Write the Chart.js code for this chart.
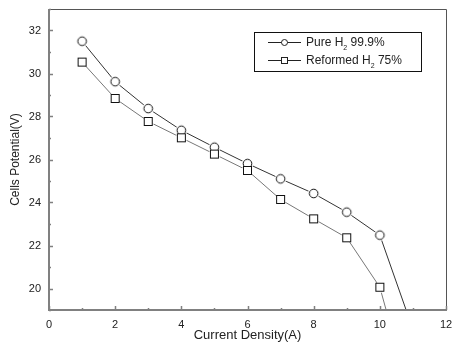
<!DOCTYPE html>
<html>
<head>
<meta charset="utf-8">
<script src="https://cdn.jsdelivr.net/npm/chart.js@4.4.0/dist/chart.umd.min.js"></script>
<style>
html, body { margin: 0; padding: 0; background: #fff; }
#wrap { width: 453px; height: 352px; }
</style>
</head>
<body>
<div id="wrap"><canvas id="cells-chart" width="453" height="352"></canvas></div>
<script>
// Cells potential vs current density

var currentA = [1, 2, 3, 4, 5, 6, 7, 8, 9, 10, 11];
var purePotential = [31.5, 29.62, 28.37, 27.36, 26.57, 25.81, 25.1, 24.42, 23.55, 22.48, 18.1];
var reformedPotential = [30.53, 28.84, 27.77, 27.01, 26.25, 25.49, 24.14, 23.24, 22.36, 20.06, 14.5];
var seriesLabels = ['Pure H\u2082 99.9%', 'Reformed H\u2082 75%'];
var xTicks = [0, 2, 4, 6, 8, 10, 12];
var yTicks = [20, 22, 24, 26, 28, 30, 32];

Chart.defaults.font.family = "'Liberation Sans', Arial, sans-serif";
Chart.defaults.color = '#222';

function makeMarker(shape) {
	var c = document.createElement('canvas');
	c.width = 15; c.height = 15;
	var g = c.getContext('2d');
	g.fillStyle = '#fff';
	g.beginPath(); g.arc(7.5, 7.5, 5.8, 0, Math.PI * 2); g.fill();
	g.strokeStyle = '#111';
	g.lineWidth = 1;
	if (shape === 'circle') {
		g.beginPath(); g.arc(7.5, 7.5, 4.3, 0, Math.PI * 2); g.stroke();
	} else {
		g.strokeRect(3.5, 3.5, 8, 8);
	}
	return c;
}
var circleMarker = makeMarker('circle');
var squareMarker = makeMarker('square');

function toPoints(xs, ys) {
	return xs.map(function(x, i){ return {x: x, y: ys[i]}; });
}

// frame + inward ticks like the original plot
var framePlugin = {
	id: 'frame',
	afterDatasetsDraw: function(chart) {
		var ctx = chart.ctx, a = chart.chartArea;
		var xs = chart.scales.x, ys = chart.scales.y;
		ctx.save();
		ctx.strokeStyle = '#555';
		ctx.lineWidth = 1;
		ctx.beginPath();
		ctx.moveTo(a.left, a.top + 0.5); ctx.lineTo(a.right + 0.5, a.top + 0.5);
		ctx.lineTo(a.right + 0.5, a.bottom);
		ctx.stroke();
		ctx.strokeStyle = '#808080';
		ctx.lineWidth = 2;
		ctx.beginPath();
		ctx.moveTo(a.left, a.top); ctx.lineTo(a.left, a.bottom); ctx.lineTo(a.right + 1, a.bottom);
		ctx.stroke();
		ctx.lineWidth = 1.5;
		ctx.beginPath();
		for (var v = Math.ceil(xs.min); v <= xs.max; v++) {
			var px = Math.round(xs.getPixelForValue(v)) + 0.5;
			var len = (v % 2 === 0) ? 4 : 2;
			ctx.moveTo(px, a.bottom); ctx.lineTo(px, a.bottom - len);
		}
		for (var w = Math.ceil(ys.min); w <= ys.max; w++) {
			var py = Math.round(ys.getPixelForValue(w)) + 0.5;
			var len2 = (w % 2 === 0) ? 4 : 2;
			ctx.moveTo(a.left, py); ctx.lineTo(a.left + len2, py);
		}
		ctx.stroke();
		ctx.restore();
	}
};

// boxed legend with subscript 2
var legendBoxPlugin = {
	id: 'legendBox',
	afterDraw: function(chart) {
		var ctx = chart.ctx;
		var bx = 254.5, by = 32.5, bw = 167, bh = 39;
		ctx.save();
		ctx.fillStyle = '#fff';
		ctx.fillRect(bx, by, bw, bh);
		ctx.strokeStyle = '#111';
		ctx.lineWidth = 1;
		ctx.strokeRect(bx, by, bw, bh);
		chart.data.datasets.forEach(function(ds, i) {
			var cy = 42 + i * 18;
			ctx.strokeStyle = '#222';
			ctx.lineWidth = 1;
			ctx.beginPath(); ctx.moveTo(268, cy + 0.5); ctx.lineTo(301, cy + 0.5); ctx.stroke();
			ctx.fillStyle = '#fff';
			if (i === 0) {
				ctx.beginPath(); ctx.arc(284.5, cy + 0.5, 3, 0, Math.PI * 2); ctx.fill(); ctx.stroke();
			} else {
				ctx.fillRect(281.5, cy - 2.5, 6, 6); ctx.strokeRect(281.5, cy - 2.5, 6, 6);
			}
			var parts = ds.label.split('\u2082');
			ctx.fillStyle = '#222';
			ctx.textBaseline = 'middle';
			ctx.font = "12px 'Liberation Sans', Arial, sans-serif";
			var tx = 306;
			ctx.fillText(parts[0], tx, cy + 1);
			tx += ctx.measureText(parts[0]).width;
			ctx.font = "7px 'Liberation Sans', Arial, sans-serif";
			ctx.fillText('2', tx, cy + 6);
			tx += ctx.measureText('2').width;
			ctx.font = "12px 'Liberation Sans', Arial, sans-serif";
			ctx.fillText(parts[1], tx, cy + 1);
		});
		ctx.restore();
	}
};

window.addEventListener('load', function(){
	var ctx = document.getElementById('cells-chart').getContext('2d');
	var cellsChart = new Chart(ctx, {
		type: 'line',
		data: {
			datasets: [{
				label: seriesLabels[0],
				data: toPoints(currentA, purePotential),
				borderColor: '#333',
				borderWidth: 1,
				pointStyle: circleMarker,
				pointRadius: 5,
				order: 1,
			}, {
				label: seriesLabels[1],
				data: toPoints(currentA, reformedPotential),
				borderColor: '#777',
				borderWidth: 1,
				pointStyle: squareMarker,
				pointRadius: 5,
				order: 0,
			}]
		},
		options: {
			responsive: false,
			animation: false,
			layout: { padding: { left: 0, right: 7, top: 9, bottom: 0 } },
			plugins: {
				legend: { display: false },
				tooltip: { enabled: false },
			},
			scales: {
				x: {
					type: 'linear',
					min: 0,
					max: 12,
					afterBuildTicks: function(s){ s.ticks = xTicks.map(function(v){ return {value: v}; }); },
					afterFit: function(s){ s.height = 42; s.paddingLeft = 0; s.paddingRight = 0; },
					grid: { display: false, drawTicks: false },
					border: { display: false },
					ticks: { padding: 8, font: { size: 11 }, color: '#222', maxRotation: 0 },
					title: {
						display: true,
						text: 'Current Density(A)',
						font: { size: 13 },
						color: '#222',
						padding: { top: 0, bottom: 9 },
					}
				},
				y: {
					min: 19,
					max: 33,
					afterBuildTicks: function(s){ s.ticks = yTicks.map(function(v){ return {value: v}; }); },
					afterFit: function(s){ s.width = 49; s.paddingTop = 0; s.paddingBottom = 0; },
					grid: { display: false, drawTicks: false },
					border: { display: false },
					ticks: { padding: 8, font: { size: 11 }, color: '#222' },
					title: {
						display: true,
						text: 'Cells Potential(V)',
						font: { size: 12 },
						color: '#222',
						padding: { top: 8, bottom: 0 },
					}
				}
			}
		},
		plugins: [framePlugin, legendBoxPlugin]
	});
});
</script>
</body>
</html>
